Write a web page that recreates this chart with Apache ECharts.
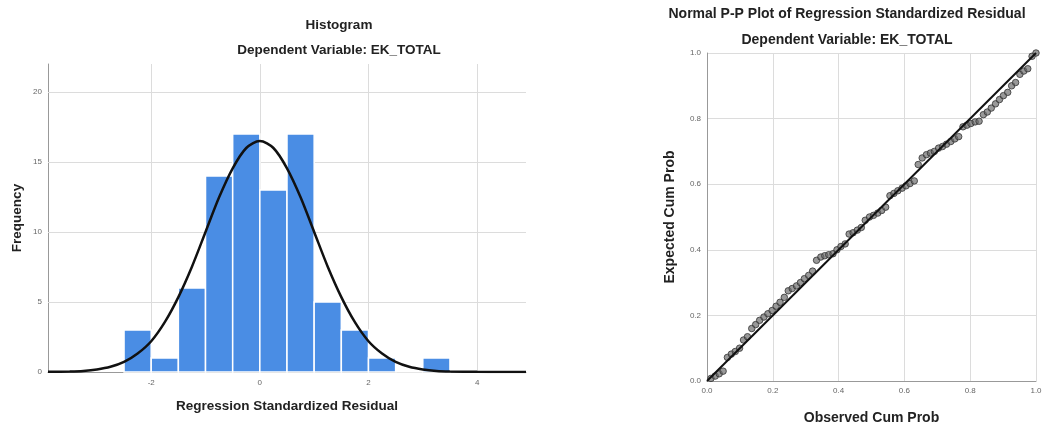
<!DOCTYPE html>
<html>
<head>
<meta charset="utf-8">
<script src="https://cdn.jsdelivr.net/npm/echarts@6/dist/echarts.min.js"></script>
<style>
html,body{margin:0;padding:0;background:#fff;}
#chart{width:1042px;height:425px;}
</style>
</head>
<body>
<div id="chart"></div>
<script>
// ---- Histogram data ----
const binLow  = [-2.5, -2, -1.5, -1, -0.5, 0, 0.5, 1, 1.5, 2, 2.5, 3];
const binHigh = [-2, -1.5, -1, -0.5, 0, 0.5, 1, 1.5, 2, 2.5, 3, 3.5];
const binCounts = [3, 1, 6, 14, 17, 13, 17, 5, 3, 1, 0, 1];
const histXTicks = [-2, 0, 2, 4];
const histYTicks = [0, 5, 10, 15, 20];
// normal curve
const curveX = [-3.9, -3.5, -3.25, -3, -2.75, -2.5, -2.25, -2, -1.75, -1.5, -1.25, -1, -0.75, -0.5, -0.25, 0,
  0.25, 0.5, 0.75, 1, 1.25, 1.5, 1.75, 2, 2.25, 2.5, 2.75, 3, 3.25, 3.5, 4, 4.5, 4.9];
const curveY = [0.01, 0.04, 0.08, 0.18, 0.37, 0.72, 1.32, 2.2, 3.56, 5.35, 7.52, 10.0, 12.48, 14.55, 16.0, 16.5,
  16.0, 14.55, 12.48, 10.0, 7.52, 5.35, 3.56, 2.2, 1.32, 0.72, 0.37, 0.18, 0.08, 0.04, 0.01, 0.0, 0.0];

// ---- P-P plot data ----
const observedCum = [0.012,0.025,0.037,0.049,0.062,0.074,0.086,0.099,0.111,0.123,0.136,0.148,0.160,0.173,0.185,0.198,
  0.210,0.222,0.235,0.247,0.259,0.272,0.284,0.296,0.309,0.321,0.333,0.346,0.358,0.370,0.383,0.395,0.407,0.420,0.432,
  0.444,0.457,0.469,0.481,0.494,0.506,0.519,0.531,0.543,0.556,0.568,0.580,0.593,0.605,0.617,0.630,0.642,0.654,0.667,
  0.679,0.691,0.704,0.716,0.728,0.741,0.753,0.765,0.778,0.790,0.802,0.815,0.827,0.840,0.852,0.864,0.877,0.889,0.901,
  0.914,0.926,0.938,0.951,0.963,0.975,0.988,1.000];
const expectedCum = [0.008,0.015,0.022,0.030,0.072,0.082,0.090,0.100,0.125,0.135,0.160,0.172,0.185,0.195,0.205,0.215,
  0.228,0.240,0.255,0.275,0.282,0.290,0.300,0.312,0.322,0.335,0.368,0.378,0.382,0.385,0.388,0.400,0.410,0.418,0.448,
  0.452,0.460,0.468,0.490,0.500,0.505,0.512,0.520,0.530,0.565,0.572,0.580,0.588,0.595,0.602,0.610,0.660,0.680,0.690,
  0.695,0.700,0.710,0.715,0.722,0.730,0.738,0.745,0.775,0.780,0.785,0.790,0.792,0.812,0.820,0.832,0.845,0.858,0.870,
  0.880,0.900,0.910,0.935,0.945,0.952,0.990,1.000];
const refLineX = [0, 1];
const refLineY = [0, 1];
const ppTicks = ['0.0', '0.2', '0.4', '0.6', '0.8', '1.0'];

const chart = echarts.init(document.getElementById('chart'), null, {renderer: 'canvas'});
const FONT = '"Liberation Sans", Arial, sans-serif';
const titleStyleL = {fontFamily: FONT, fontSize: 13.5, fontWeight: 'bold', color: '#222'};
const titleStyleR = {fontFamily: FONT, fontSize: 14, fontWeight: 'bold', color: '#222'};
const nameStyleL = {fontFamily: FONT, fontSize: 13.5, fontWeight: 'bold', color: '#222'};
const nameStyleR = {fontFamily: FONT, fontSize: 14, fontWeight: 'bold', color: '#222'};
const tickLabel = {fontFamily: FONT, fontSize: 8, color: '#666'};
const GRID_COLOR = '#dcdcdc';

const histBars = binLow.map((lo, i) => [lo, binHigh[i], binCounts[i]]);
const curveData = curveX.map((x, i) => [x, curveY[i]]);
const ppData = observedCum.map((x, i) => [x, expectedCum[i]]);
const refData = refLineX.map((x, i) => [x, refLineY[i]]);
// grid line data for the histogram: [x, y, orientation]
const histGridData = histXTicks.map(v => [v, 0, 'v']).concat(histYTicks.filter(v => v > 0).map(v => [0, v, 'h']));

const option = {
  animation: false,
  backgroundColor: '#fff',
  title: [
    {text: 'Histogram', left: 339, top: 18, padding: 0, textAlign: 'center', textStyle: titleStyleL},
    {text: 'Dependent Variable: EK_TOTAL', left: 339, top: 43, padding: 0, textAlign: 'center', textStyle: titleStyleL},
    {text: 'Normal P-P Plot of Regression Standardized Residual', left: 847, top: 7, padding: 0, textAlign: 'center', textStyle: titleStyleR},
    {text: 'Dependent Variable: EK_TOTAL', left: 847, top: 33, padding: 0, textAlign: 'center', textStyle: titleStyleR}
  ],
  grid: [
    {left: 48, right: 516, top: 64, bottom: 53, containLabel: false, outerBoundsMode: 'none'},
    {left: 707, right: 6, top: 53, bottom: 44, containLabel: false, outerBoundsMode: 'none'}
  ],
  xAxis: [
    {
      gridIndex: 0, type: 'value', min: -3.9, max: 4.9,
      name: 'Regression Standardized Residual', nameLocation: 'middle', nameGap: 27,
      nameTextStyle: nameStyleL,
      axisLine: {show: true, onZero: false, lineStyle: {color: '#999', width: 1}},
      axisTick: {show: false},
      axisLabel: Object.assign({margin: 7, customValues: histXTicks}, tickLabel),
      splitLine: {show: false}
    },
    {
      gridIndex: 1, type: 'value', min: 0, max: 1, interval: 0.2,
      name: 'Observed Cum Prob', nameLocation: 'middle', nameGap: 30,
      nameTextStyle: nameStyleR,
      axisLine: {show: true, onZero: false, lineStyle: {color: '#999', width: 1}},
      axisTick: {show: false},
      axisLabel: Object.assign({margin: 6, formatter: v => ppTicks[Math.round(v * 5)]}, tickLabel),
      splitLine: {show: true, lineStyle: {color: GRID_COLOR, width: 1}}
    }
  ],
  yAxis: [
    {
      gridIndex: 0, type: 'value', min: 0, max: 22,
      name: 'Frequency', nameLocation: 'middle', nameGap: 24, nameRotate: 90,
      nameTextStyle: nameStyleL,
      axisLine: {show: true, onZero: false, lineStyle: {color: '#999', width: 1}},
      axisTick: {show: false},
      axisLabel: Object.assign({margin: 6, customValues: histYTicks}, tickLabel),
      splitLine: {show: false}
    },
    {
      gridIndex: 1, type: 'value', min: 0, max: 1, interval: 0.2,
      name: 'Expected Cum Prob', nameLocation: 'middle', nameGap: 30, nameRotate: 90,
      nameTextStyle: nameStyleR,
      axisLine: {show: true, onZero: false, lineStyle: {color: '#999', width: 1}},
      axisTick: {show: false},
      axisLabel: Object.assign({margin: 6, formatter: v => ppTicks[Math.round(v * 5)]}, tickLabel),
      splitLine: {show: true, lineStyle: {color: GRID_COLOR, width: 1}}
    }
  ],
  series: [
    {
      type: 'custom', xAxisIndex: 0, yAxisIndex: 0, data: histGridData, z: 1, silent: true,
      renderItem: function (params, api) {
        const cs = params.coordSys;
        const p = api.coord([api.value(0), api.value(1)]);
        const vertical = histGridData[params.dataIndex][2] === 'v';
        const shape = vertical
          ? {x1: Math.round(p[0]) + 0.5, y1: cs.y, x2: Math.round(p[0]) + 0.5, y2: cs.y + cs.height}
          : {x1: cs.x, y1: Math.round(p[1]) + 0.5, x2: cs.x + cs.width, y2: Math.round(p[1]) + 0.5};
        return {type: 'line', shape: shape, style: {stroke: GRID_COLOR, lineWidth: 1}};
      }
    },
    {
      type: 'custom', xAxisIndex: 0, yAxisIndex: 0, data: histBars, z: 2,
      renderItem: function (params, api) {
        const p0 = api.coord([api.value(0), api.value(2)]);
        const p1 = api.coord([api.value(1), 0]);
        return {
          type: 'rect',
          shape: {x: p0[0], y: p0[1], width: p1[0] - p0[0], height: p1[1] - p0[1]},
          style: {fill: '#4a8de4', stroke: '#ffffff', lineWidth: 1.5}
        };
      }
    },
    {
      type: 'line', xAxisIndex: 0, yAxisIndex: 0, data: curveData, smooth: 0.3,
      showSymbol: false, symbol: 'none', z: 3,
      lineStyle: {color: '#111', width: 2.5}
    },
    {
      type: 'scatter', xAxisIndex: 1, yAxisIndex: 1, data: ppData, z: 2,
      symbol: 'circle', symbolSize: 6.5,
      itemStyle: {color: 'rgba(105,105,105,0.85)', borderColor: '#333', borderWidth: 1}
    },
    {
      type: 'line', xAxisIndex: 1, yAxisIndex: 1, data: refData, z: 3,
      showSymbol: false, symbol: 'none',
      lineStyle: {color: '#111', width: 2}
    }
  ]
};
chart.setOption(option);
</script>
</body>
</html>
